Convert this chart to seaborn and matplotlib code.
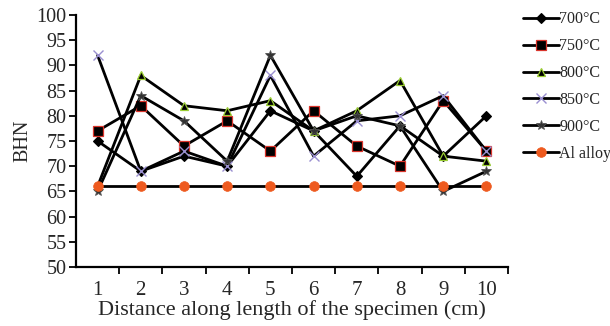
import numpy as np
import pandas as pd
import matplotlib
matplotlib.use("Agg")
import matplotlib.pyplot as plt
import seaborn as sns

positions = [1, 2, 3, 4, 5, 6, 7, 8, 9, 10]
s700 = [75, 69, 72, 70, 81, 77, 68, 78, 72, 80]
s750 = [77, 82, 74, 79, 73, 81, 74, 70, 83, 73]
s800 = [66, 88, 82, 81, 83, 77, 81, 87, 72, 71]
s850 = [92, 69, 73, 70, 88, 72, 79, 80, 84, 73]
s900 = [65, 84, 79, 71, 92, 77, 80, 78, 65, 69]
s_al = [66, 66, 66, 66, 66, 66, 66, 66, 66, 66]
labels = ["700°C", "750°C", "800°C", "850°C", "900°C", "Al alloy"]

sns.set_theme(style="white")
plt.rcParams['font.family'] = ['Liberation Serif', 'DejaVu Serif']

fig = plt.figure(figsize=(6.10, 3.26), dpi=100)
ax = fig.add_axes([76/610, 1 - 267/326, (508-76)/610, (267-15)/326])

styles = [
    dict(marker="D", markersize=5.5, markerfacecolor="black", markeredgecolor="black", markeredgewidth=0.8),
    dict(marker="s", markersize=7, markerfacecolor="black", markeredgecolor="#d9342b", markeredgewidth=0.9),
    dict(marker="^", markersize=6, markerfacecolor="black", markeredgecolor="#9acd32", markeredgewidth=0.9),
    dict(marker="x", markersize=7, markerfacecolor="none", markeredgecolor="#9a8fd0", markeredgewidth=1.0),
    dict(marker="*", markersize=7, markerfacecolor="#333333", markeredgecolor="#555555", markeredgewidth=0.6),
    dict(marker="o", markersize=7, markerfacecolor="#ee5a1f", markeredgecolor="#ee5a1f", markeredgewidth=0.5),
]
series = [s700, s750, s800, s850, s900, s_al]
for vals, lab, st in zip(series, labels, styles):
    df = pd.DataFrame({"x": positions, "y": vals})
    sns.lineplot(data=df, x="x", y="y", ax=ax, color="black", linewidth=2.0,
                 label=lab, **st)

ax.set_xlim(0.5, 10.5)
ax.set_ylim(50, 100)
ax.set_yticks(np.arange(50, 101, 5))
ax.set_xticks(positions)
ax.set_xticks(np.arange(1.5, 10.6, 1.0), minor=True)
ax.tick_params(axis="x", which="major", length=0, pad=10, labelsize=15)
ax.tick_params(axis="x", which="minor", length=5, width=1.3, color="black", direction="out", bottom=True)
ax.tick_params(axis="y", which="major", length=5, width=1.3, color="black", direction="out", left=True, labelsize=14.5, pad=2)
for side in ["top", "right"]:
    ax.spines[side].set_visible(False)
for side in ["left", "bottom"]:
    ax.spines[side].set_color("black")
    ax.spines[side].set_linewidth(1.6)
ax.set_xlabel("Distance along length of the specimen (cm)", fontsize=16, labelpad=0)
ax.set_ylabel("BHN", fontsize=14.5, labelpad=3)

handles, labs = ax.get_legend_handles_labels()
ax.get_legend().remove()
fig.legend(handles, labs, loc="upper left", bbox_to_anchor=(517/610, 1 - 5/326),
           frameon=False, fontsize=11.5, handlelength=2.2, handletextpad=0.05,
           labelspacing=0.68, borderaxespad=0)

fig.savefig("out.png", dpi=100, facecolor="white")
